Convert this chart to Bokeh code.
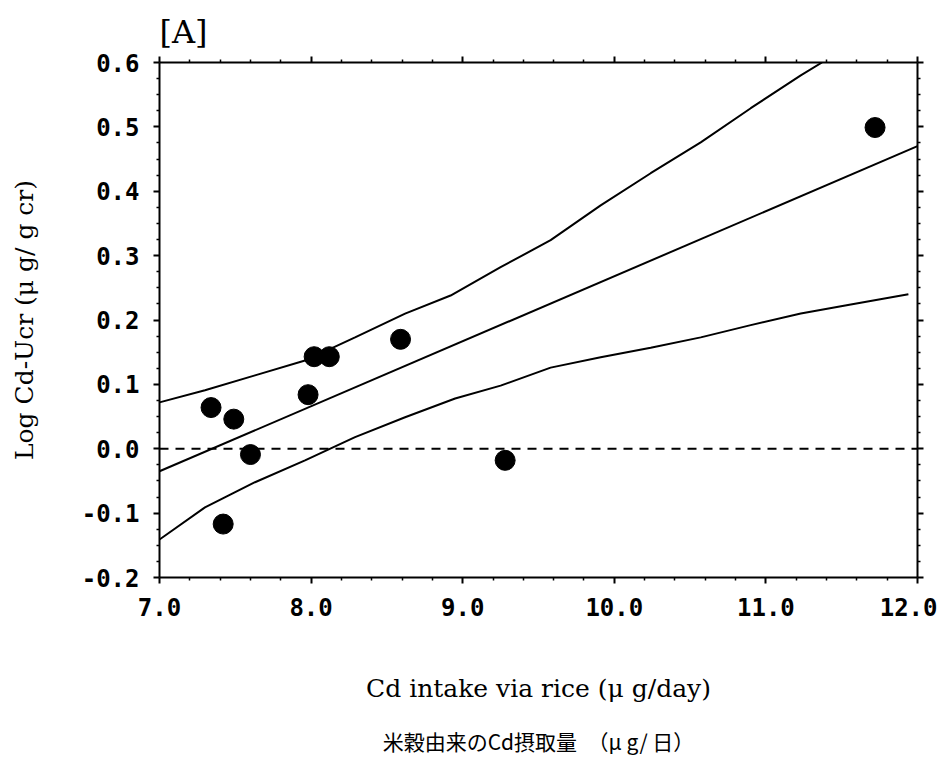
from bokeh.plotting import figure
from bokeh.models import (Range1d, LinearAxis, FixedTicker, PrintfTickFormatter,
                          CustomJSTickFormatter, Span, Title)
from bokeh.embed import file_html
from bokeh.resources import INLINE

# --- data ---
rice_intake = [7.34, 7.42, 7.49, 7.60, 7.98, 8.02, 8.12, 8.59, 9.28, 11.72]
log_cd_ucr = [0.064, -0.117, 0.046, -0.009, 0.084, 0.143, 0.143, 0.170, -0.018, 0.499]

fit_x = [7.0, 12.0]
fit_y = [-0.035, 0.470]

upper_x = [7.0, 7.30, 7.63, 7.96, 8.29, 8.62, 8.92, 9.25, 9.58, 9.91, 10.24, 10.57, 10.90, 11.23, 11.37]
upper_y = [0.072, 0.091, 0.114, 0.137, 0.173, 0.210, 0.238, 0.282, 0.324, 0.378, 0.428, 0.476, 0.529, 0.580, 0.600]

lower_x = [7.0, 7.30, 7.63, 7.96, 8.29, 8.62, 8.95, 9.25, 9.58, 9.91, 10.24, 10.57, 10.90, 11.23, 11.56, 11.94]
lower_y = [-0.141, -0.091, -0.052, -0.018, 0.018, 0.049, 0.078, 0.098, 0.126, 0.142, 0.157, 0.173, 0.192, 0.210, 0.224, 0.240]

x_major_ticks = [7.0, 8.0, 9.0, 10.0, 11.0, 12.0]
x_minor_ticks = [7.2, 7.4, 7.6, 7.8, 8.2, 8.4, 8.6, 8.8, 9.2, 9.4, 9.6, 9.8,
                 10.2, 10.4, 10.6, 10.8, 11.2, 11.4, 11.6, 11.8]
y_major_ticks = [-0.2, -0.1, 0.0, 0.1, 0.2, 0.3, 0.4, 0.5, 0.6]
y_minor_ticks = [-0.175, -0.15, -0.125, -0.075, -0.05, -0.025, 0.025, 0.05, 0.075,
                 0.125, 0.15, 0.175, 0.225, 0.25, 0.275, 0.325, 0.35, 0.375,
                 0.425, 0.45, 0.475, 0.525, 0.55, 0.575]

x_title = "Cd intake via rice (μ g/day)"
y_title = "Log Cd-Ucr (μ g/ g cr)"
jp_title = "米穀由来のCd摂取量　（μ g/ 日）"
panel_title = "[A]"

SERIF = "DejaVu Serif"
MONO = "DejaVu Sans Mono"

p = figure(frame_width=758, frame_height=515, output_backend="svg", toolbar_location=None,
           x_range=Range1d(7.0, 12.0), y_range=Range1d(-0.2, 0.6),
           x_axis_type=None, y_axis_type=None,
           min_border_left=159, min_border_right=20, min_border_top=62, min_border_bottom=180)
p.outline_line_color = None

p.title.text = panel_title
p.title.text_font = SERIF
p.title.text_font_size = "32px"
p.title.text_font_style = "normal"
p.title.text_color = "black"
p.title.align = "left"
p.title.offset = 0
p.title.standoff = 11


def style_axis(ax, labels=True):
    ax.axis_line_width = 2
    ax.axis_line_color = "black"
    ax.major_tick_line_width = 2
    ax.minor_tick_line_width = 1.5
    ax.major_tick_out = 6
    ax.major_tick_in = 0
    ax.minor_tick_out = 3
    ax.minor_tick_in = 0
    if labels:
        ax.major_label_text_font = MONO
        ax.major_label_text_font_size = "24px"
        ax.major_label_text_font_style = "bold"
        ax.major_label_text_color = "black"
        ax.axis_label_text_font = SERIF
        ax.axis_label_text_font_size = "25px"
        ax.axis_label_text_font_style = "normal"
        ax.axis_label_text_color = "black"
    else:
        ax.formatter = CustomJSTickFormatter(code="return ''")
        ax.major_label_standoff = 0
        ax.major_label_text_font_size = "1px"


xb = LinearAxis(ticker=FixedTicker(ticks=x_major_ticks, minor_ticks=x_minor_ticks),
                formatter=PrintfTickFormatter(format="%.1f"), axis_label=x_title)
style_axis(xb)
xb.major_label_standoff = 14
xb.axis_label_standoff = 55
p.add_layout(xb, "below")

yl = LinearAxis(ticker=FixedTicker(ticks=y_major_ticks, minor_ticks=y_minor_ticks),
                formatter=PrintfTickFormatter(format="%.1f"), axis_label=y_title)
style_axis(yl)
yl.major_label_standoff = 14
yl.axis_label_standoff = 40
p.add_layout(yl, "left")

xt = LinearAxis(ticker=FixedTicker(ticks=x_major_ticks, minor_ticks=x_minor_ticks))
style_axis(xt, labels=False)
p.add_layout(xt, "above")

yr = LinearAxis(ticker=FixedTicker(ticks=y_major_ticks, minor_ticks=y_minor_ticks))
style_axis(yr, labels=False)
p.add_layout(yr, "right")

jp = Title(text=jp_title, text_font="Noto Sans CJK JP", text_font_size="21px",
           text_font_style="normal", text_color="black", align="center", standoff=36)
p.add_layout(jp, "below")

p.add_layout(Span(location=0.0, dimension="width", line_color="black",
                  line_width=2, line_dash="9 7"))

p.line(fit_x, fit_y, line_color="black", line_width=2)
p.line(upper_x, upper_y, line_color="black", line_width=2)
p.line(lower_x, lower_y, line_color="black", line_width=2)
p.scatter(rice_intake, log_cd_ucr, size=20, marker="circle",
          fill_color="black", line_color="black")

open("out.html", "w").write(file_html(p, INLINE))
